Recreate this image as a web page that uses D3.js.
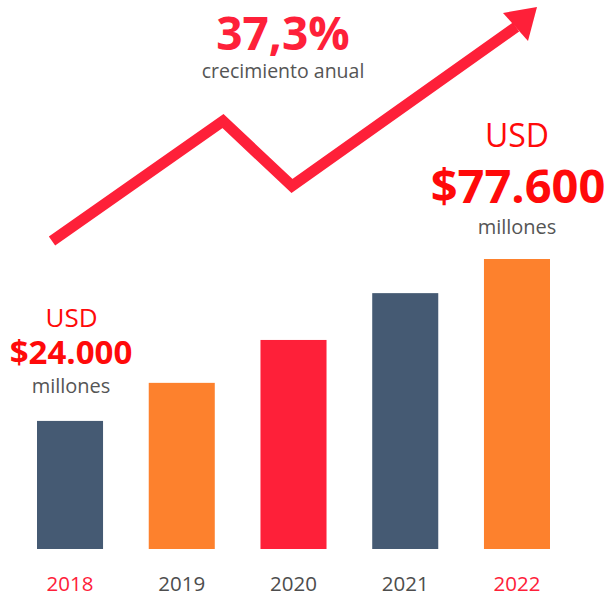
<!DOCTYPE html>
<html>
<head>
<meta charset="utf-8">
<script src="https://cdn.jsdelivr.net/npm/d3@7"></script>
<style>
  html, body { margin: 0; padding: 0; background: #fff; }
  svg { display: block; font-family: "Open Sans", "Noto Sans", sans-serif; }
</style>
</head>
<body>
<svg id="chart"></svg>
<script>
'use strict';

var years = ['2018', '2019', '2020', '2021', '2022'];
var values = [24000, 36600, 50800, 66300, 77600];
var barColors = ['#455a73', '#fd812d', '#fe2039', '#455a73', '#fd812d'];
var yearColors = ['#fe2039', '#4d4d4d', '#4d4d4d', '#4d4d4d', '#fe2039'];
// decorative trend arrow (zig-zag), in page pixels
var trendPoints = [[52, 241], [223, 121], [292, 186], [516, 27]];

var WIDTH = 605, HEIGHT = 598;
var RED = '#fe2039', TXT_RED = '#ff0a0a', GREY = '#555';

var svg = d3.select('#chart')
  .attr('width', WIDTH)
  .attr('height', HEIGHT);

var x = d3.scaleBand()
  .domain(years)
  .range([14.15, 572.85])
  .paddingInner(0.409)
  .paddingOuter(0.2045);

var y = d3.scaleLinear()
  .domain([-18400, 77600])
  .range([549, 259]);

// bars
svg.append('g')
  .selectAll('rect')
  .data(values)
  .enter().append('rect')
  .attr('x', function(d, i) { return x(years[i]); })
  .attr('y', function(d) { return y(d); })
  .attr('width', x.bandwidth())
  .attr('height', function(d) { return y(y.domain()[0]) - y(d); })
  .attr('fill', function(d, i) { return barColors[i]; });

// year labels
var xAxis = d3.axisBottom(x).tickSize(0).tickPadding(0);
var ax = svg.append('g')
  .attr('transform', 'translate(0,591)')
  .call(xAxis);
ax.select('.domain').remove();
ax.selectAll('text')
  .attr('dy', null)
  .attr('font-family', '"Open Sans", sans-serif')
  .attr('font-size', 20.5)
  .attr('fill', function(d, i) { return yearColors[i]; });

// trend arrow
svg.append('path')
  .attr('d', d3.line()(trendPoints))
  .attr('fill', 'none')
  .attr('stroke', RED)
  .attr('stroke-width', 11)
  .attr('stroke-linejoin', 'miter');

svg.append('path')
  .attr('d', 'M537,7 L503,13 L528,41 Z')
  .attr('fill', RED);

function label(t, cx, cy, size, color, weight) {
  svg.append('text')
    .attr('x', cx)
    .attr('y', cy)
    .attr('text-anchor', 'middle')
    .attr('font-size', size)
    .attr('font-weight', weight || 'normal')
    .attr('fill', color)
    .text(t);
}

// headline
label('37,3%', 283, 50, 46, RED, 'bold');
label('crecimiento anual', 283, 78, 19.5, GREY);

// first value
label('USD', 71.5, 327, 26, TXT_RED);
label('$24.000', 71, 364, 33, TXT_RED, 'bold');
label('millones', 71, 393, 20, GREY);

// last value
label('USD', 517, 147, 32, TXT_RED);
label('$77.600', 518, 203, 47, TXT_RED, 'bold');
label('millones', 517, 234, 20, GREY);
</script>
</body>
</html>
